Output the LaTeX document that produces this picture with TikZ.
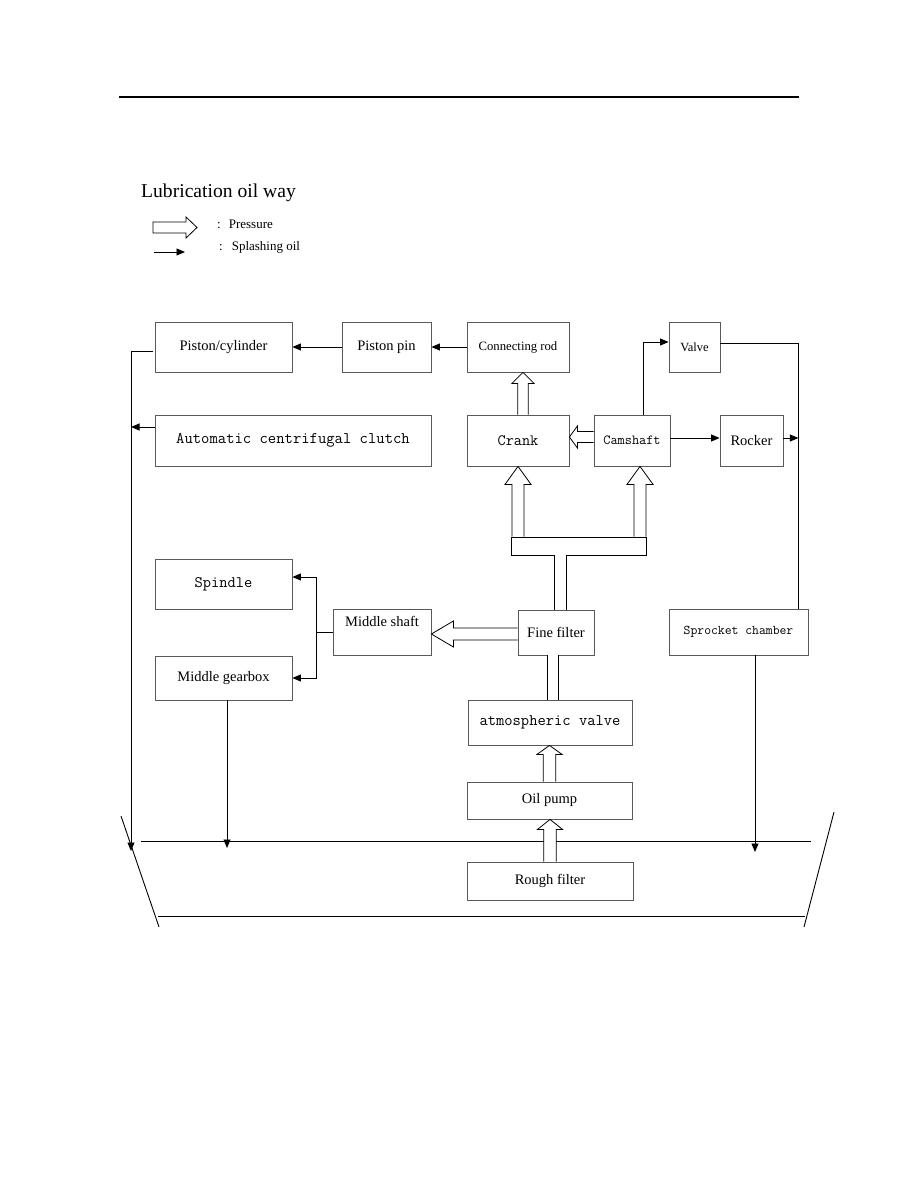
\documentclass[tikz,border=0pt]{standalone}
\usepackage{fontspec}
\setmainfont{Liberation Serif}
\usetikzlibrary{arrows.meta,calc}

\tikzset{
  box/.style={draw=black!65, line width=0.8pt, inner sep=0pt},
  serif/.style={font=\fontsize{14.5}{17}\selectfont},
  mono/.style={font=\ttfamily\fontsize{16}{19}\selectfont},
  link/.style={draw=black, line width=0.9pt},
  splash/.style={link, -{Triangle[length=8.5pt,width=7pt]}},
  pipe/.style={draw=black, line width=0.8pt, double=white, double distance=10.5pt},
  pressup/.style n args={3}{draw=black, fill=white, line width=0.8pt,
    to path={let \p1=(\tikztostart), \p2=(\tikztotarget) in
      (\x1-#1,\y1) -- (\x1-#1,\y2-#3) -- (\x1-#2,\y2-#3) -- (\x1,\y2)
      -- (\x1+#2,\y2-#3) -- (\x1+#1,\y2-#3) -- (\x1+#1,\y1)}},
  pressleft/.style n args={3}{draw=black, fill=white, line width=0.8pt,
    to path={let \p1=(\tikztostart), \p2=(\tikztotarget) in
      (\x1,\y1+#1) -- (\x2+#3,\y1+#1) -- (\x2+#3,\y1+#2) -- (\x2,\y1)
      -- (\x2+#3,\y1-#2) -- (\x2+#3,\y1-#1) -- (\x1,\y1-#1)}},
  pressright/.style n args={3}{draw=black, fill=white, line width=0.8pt,
    to path={let \p1=(\tikztostart), \p2=(\tikztotarget) in
      (\x1,\y1+#1) -- (\x2-#3,\y1+#1) -- (\x2-#3,\y1+#2) -- (\x2,\y1)
      -- (\x2-#3,\y1-#2) -- (\x2-#3,\y1-#1) -- (\x1,\y1-#1) -- cycle}},
}

\begin{document}
\begin{tikzpicture}[x=1pt,y=-1pt]
\useasboundingbox (0,0) rectangle (918,1188);
\draw[line width=2pt] (119,97) -- (799,97);

% legend
\node[anchor=base west, inner sep=0pt, font=\fontsize{19.6}{22}\selectfont] (title) at (141,197) {Lubrication oil way};
\coordinate (keyPa) at (153,227.5);
\coordinate (keyPb) at (197,227.5);
\draw[pressright={5.5pt}{10.5pt}{11pt}] (keyPa) to (keyPb);
\node[anchor=base west, inner sep=0pt, font=\fontsize{13}{15}\selectfont] (keyPtext) at (217,228) {:\hspace{8pt}Pressure};
\coordinate (keySa) at (154,252);
\coordinate (keySb) at (185,252);
\draw[splash] (keySa) -- (keySb);
\node[anchor=base west, inner sep=0pt, font=\fontsize{13}{15}\selectfont] (keyStext) at (219,250) {:\hspace{9pt}Splashing oil};

% boxes
\node[box, serif, minimum width=137pt, minimum height=50pt] (piscyl) at (223.5,347) {Piston/cylinder};
\node[box, serif, minimum width=89pt, minimum height=50pt] (pin) at (386.5,347) {Piston pin};
\node[box, serif, font=\fontsize{12.7}{15}\selectfont, minimum width=102pt, minimum height=50pt] (conrod) at (518,347) {Connecting rod};
\node[box, serif, font=\fontsize{12.5}{15}\selectfont, minimum width=51pt, minimum height=50pt] (valve) at (694.5,347) {Valve};
\node[box, mono, font=\ttfamily\fontsize{16.2}{19}\selectfont, minimum width=276pt, minimum height=51pt] (clutch) at (293,440.5) {Automatic centrifugal clutch};
\node[box, mono, font=\ttfamily\fontsize{15.8}{19}\selectfont, minimum width=102pt, minimum height=51pt] (crank) at (518,440.5) {Crank};
\node[box, mono, font=\ttfamily\fontsize{13.9}{17}\selectfont, minimum width=76pt, minimum height=51pt] (cam) at (632,440.5) {Camshaft};
\node[box, serif, minimum width=63pt, minimum height=51pt] (rocker) at (751.5,440.5) {Rocker};
\node[box, mono, minimum width=137pt, minimum height=50pt] (spindle) at (223.5,584) {Spindle};
\node[box, serif, minimum width=98pt, minimum height=46pt] (midshaft) at (382,632) {\raisebox{6pt}[0pt][0pt]{Middle shaft}};
\node[box, serif, minimum width=76pt, minimum height=45pt] (fine) at (556,632.5) {Fine filter};
\node[box, mono, font=\ttfamily\fontsize{13.3}{16}\selectfont, minimum width=139pt, minimum height=46pt] (sprocket) at (738.5,632) {Sprocket chamber};
\node[box, serif, minimum width=137pt, minimum height=44pt] (gearbox) at (223.5,678) {Middle gearbox};
\node[box, mono, font=\ttfamily\fontsize{16.1}{19}\selectfont, minimum width=164pt, minimum height=45pt] (atm) at (550,722.5) {atmospheric valve};
\node[box, serif, minimum width=165pt, minimum height=37pt] (oilpump) at (549.5,800.5) {Oil pump};
\node[box, serif, minimum width=166pt, minimum height=38pt] (rough) at (550,881) {Rough filter};
\node[draw=black, line width=0.8pt, inner sep=0pt, minimum width=135pt, minimum height=18pt] (bar) at (578.5,546) {};

% oil sump
\draw[link] (141,841) -- (811,841);
\draw[link] (158,916) -- (805,916);
\draw[link] (121,816) -- (159,927);
\draw[link] (834,812) -- (804,927);

% pressure oil
\draw[pipe] ([xshift=4.5pt]fine.north) -- ([xshift=4.5pt]fine.north |- bar.south);
\draw[pipe] ([xshift=-3pt]fine.south) -- ([xshift=-3pt]fine.south |- atm.north);
\draw[pressup={6pt}{13pt}{18pt}] (crank.south |- bar.north) to (crank.south);
\draw[pressup={6pt}{13pt}{18pt}] ([xshift=8pt]cam.south |- bar.north) to ([xshift=8pt]cam.south);
\draw[pressup={5.3pt}{11pt}{11pt}] ([xshift=5pt]crank.north) to ([xshift=5pt]conrod.south);
\draw[pressleft={5.5pt}{11pt}{8pt}] ([yshift=3.5pt]cam.west) to ([yshift=3.5pt]crank.east);
\draw[pressleft={6pt}{13pt}{22pt}] ([yshift=-1.5pt]fine.west) to ([yshift=-1.5pt]fine.west -| midshaft.east);
\draw[pressup={6.2pt}{12.5pt}{9pt}] (oilpump.north) to (atm.south);
\draw[pressup={6.2pt}{12.5pt}{10pt}] (rough.north) to (oilpump.south);

% splashing oil
\coordinate (leftdrop) at (131,851);
\coordinate (geardrop) at (227,848);
\coordinate (sprocketdrop) at (755,852);
\coordinate (rline) at ([xshift=-10pt]sprocket.north east);
\draw[splash] (conrod.west) -- (pin.east);
\draw[splash] (pin.west) -- (piscyl.east);
\draw[splash] ([xshift=-2pt,yshift=-4pt]piscyl.west) -| (leftdrop);
\draw[splash] ([yshift=13.5pt]clutch.west) -- ([yshift=13.5pt]clutch.west -| leftdrop);
\draw[splash] ([xshift=11pt]cam.north) |- ([yshift=5pt]valve.west);
\draw[splash] ([yshift=2.5pt]cam.east) -- ([yshift=2.5pt]cam.east -| rocker.west);
\draw[link] ([yshift=4pt]valve.east) -| (rline);
\draw[splash] ([yshift=2.5pt]rocker.east) -- ([yshift=2.5pt]rocker.east -| rline);
\draw[splash] ([xshift=16.5pt]sprocket.south) -- (sprocketdrop);
\draw[splash] ([xshift=3.5pt]gearbox.south) -- (geardrop);
\draw[link] (midshaft.west) -- ++(-16,0) coordinate (mjoin);
\draw[splash] (mjoin) |- ([yshift=7pt]spindle.east);
\draw[splash] (mjoin) |- (gearbox.east);
\end{tikzpicture}
\end{document}
